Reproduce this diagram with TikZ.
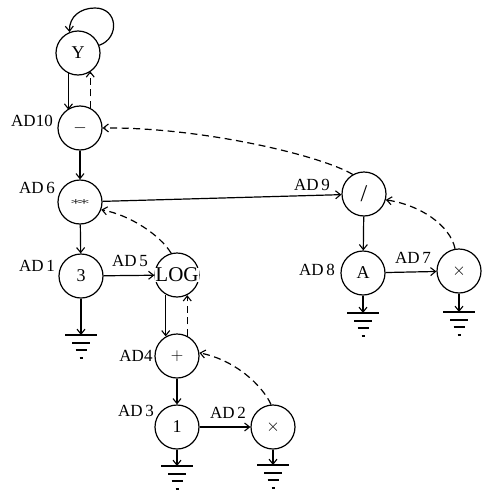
\documentclass[tikz,border=0pt]{standalone}
\usepackage{fontspec}
\usepackage{graphicx}
\setmainfont{Liberation Serif}
\usetikzlibrary{arrows.meta}

\tikzset{
  op/.style={circle, draw, line width=1.2pt, minimum size=44pt, inner sep=0pt, font=\fontsize{18}{20}\selectfont},
  lbl/.style={font=\fontsize{17}{19}\selectfont, inner sep=0pt},
  link/.style={line width=1.2pt, -{Straight Barb[length=5pt,width=8pt,line width=1.1pt]}},
  back/.style={link, dash pattern=on 7pt off 4.5pt},
  bar/.style={line width=1.4pt},
  pics/gnd/.style={code={
    \draw[bar] (-16,0) -- (16,0);
    \draw[bar] (-9,8) -- (9,8);
    \draw[bar] (-5.5,15) -- (5.5,15);
    \draw[bar] (-1.5,23) -- (1.5,23);
  }}
}

\begin{document}
\begin{tikzpicture}[x=1pt, y=-1pt]
\useasboundingbox (0,0) rectangle (488,490);

% operator nodes
\node[op] (Y)   at (78,53)   {Y};
\node[op] (sub) at (80,128)  {$-$};
\node[op] (pow) at (80,202)  {\scalebox{1.4}[0.6]{$\ast\!\ast$}};
\node[op] (c3)  at (81,276)  {3};
\node[op] (log) at (177,275) {};
\node[fill=white, inner sep=0pt, font=\fontsize{21}{23}\selectfont] (logtxt) at (log.center) {LOG};
\node[op] (add) at (177,356) {$+$};
\node[op] (c1)  at (177,427) {1};
\node[op] (mx)  at (273,427) {$\times$};
\node[op] (div) at (364,194) {\fontsize{24}{26}\selectfont /};
\node[op] (vA)  at (363,273) {A};
\node[op] (my)  at (459,271) {$\times$};

% address labels
\node[lbl] (l10) at (32,121)  {AD10};
\node[lbl] (l6)  at (37,188)  {AD\,6};
\node[lbl] (l1)  at (37,266)  {AD\,1};
\node[lbl] (l5)  at (130,261) {AD\,5};
\node[lbl] (l4)  at (136,356) {AD4};
\node[lbl] (l3)  at (136,411) {AD\,3};
\node[lbl] (l2)  at (228,413) {AD\,2};
\node[lbl] (l9)  at (312,185) {AD\,9};
\node[lbl] (l8)  at (317,270) {AD\,8};
\node[lbl] (l7)  at (413,258) {AD\,7};

% ground points
\coordinate (g3) at (81,335);
\coordinate (g1) at (177,466);
\coordinate (gx) at (273,465);
\coordinate (gA) at (363,313);
\coordinate (gy) at (459,312);

% self loop on Y
\draw[link] (Y.20) .. controls (120,38) and (118,8) .. (95,8)
            .. controls (80,8) and (69,17) .. (Y.112);

% forward links
\draw[link] (Y.245) -- (Y.245 |- sub.126);
\draw[link] (sub) -- (pow);
\draw[link] (pow) -- (c3);
\draw[link] (pow) -- (div);
\draw[link] (c3) -- (log);
\draw[link] (log.240) -- (add.120);
\draw[link] (add) -- (c1);
\draw[link] (c1) -- (mx);
\draw[link] (div) -- (vA);
\draw[link] (vA) -- (my);

% links to ground
\draw[link] (c3) -- (g3);
\draw[link] (c1) -- (g1);
\draw[link] (mx) -- (gx);
\draw[link] (vA) -- (gA);
\draw[link] (my) -- (gy);
\foreach \g in {g3,g1,gx,gA,gy} \pic at (\g) {gnd};

% return links
\draw[back] (sub.63) -- (sub.63 |- Y.306);
\draw[back] (div.120) .. controls (320,155) and (200,127) .. (sub.east);
\draw[back] (log.105) .. controls (160,235) and (130,215) .. (pow.-20);
\draw[back] (add.63) -- (log.297);
\draw[back] (mx.95) .. controls (262,385) and (235,360) .. (add.8);
\draw[back] (my.100) .. controls (450,225) and (420,205) .. (div.-15);
\end{tikzpicture}
\end{document}
